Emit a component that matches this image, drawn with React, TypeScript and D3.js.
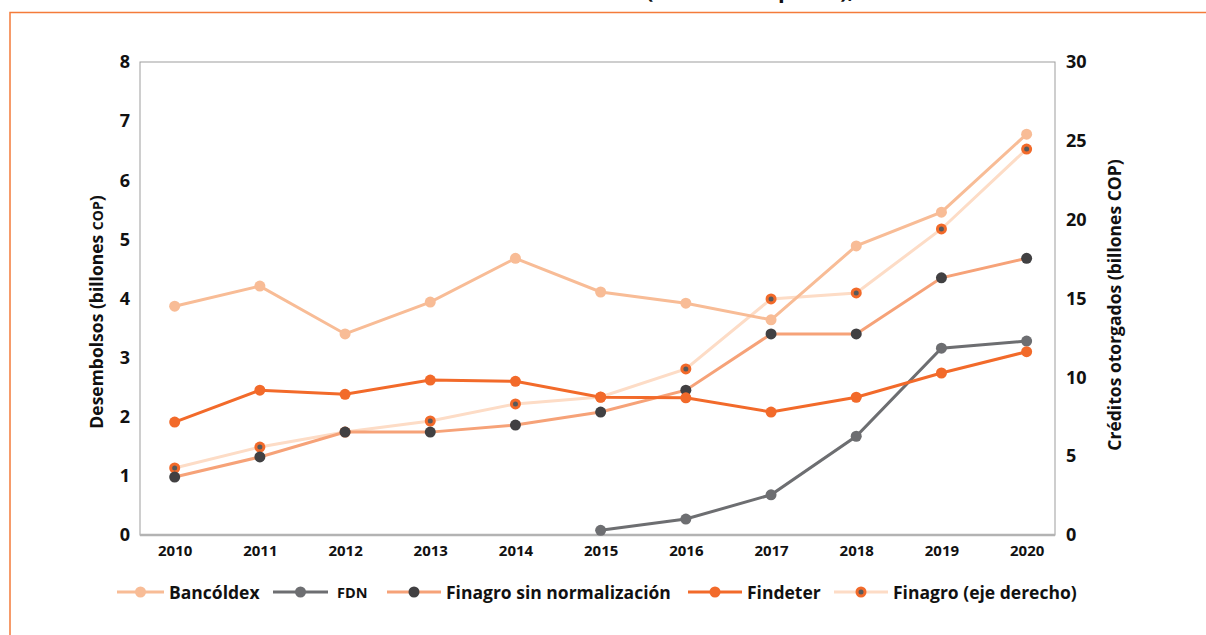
import React, { useEffect, useRef } from "react";
import * as d3 from "d3";

const years = ["2010", "2011", "2012", "2013", "2014", "2015", "2016", "2017", "2018", "2019", "2020"];
const bancoldex = [3.87, 4.21, 3.4, 3.94, 4.68, 4.11, 3.92, 3.64, 4.89, 5.46, 6.78];
const fdn = [null, null, null, null, null, 0.08, 0.27, 0.68, 1.67, 3.16, 3.28];
const finagroSinNorm = [0.98, 1.32, 1.74, 1.74, 1.86, 2.08, 2.45, 3.4, 3.4, 4.35, 4.68];
const findeter = [1.91, 2.45, 2.38, 2.62, 2.6, 2.33, 2.32, 2.08, 2.33, 2.74, 3.1];
const finagroDerecho = [4.25, 5.58, 6.53, 7.23, 8.31, 8.75, 10.53, 14.97, 15.35, 19.41, 24.48];
const leftTicks = [0, 1, 2, 3, 4, 5, 6, 7, 8];
const rightTicks = [0, 5, 10, 15, 20, 25, 30];

const W = 1206;
const H = 635;

export default function App() {
  const ref = useRef<SVGSVGElement>(null);

  useEffect(() => {
    const svg = d3.select(ref.current);
    svg.selectAll("*").remove();
    const font = "'Open Sans', 'Noto Sans', sans-serif";
    const m = { left: 140, right: 1055, top: 62, bottom: 535 };

    const x = d3.scalePoint<string>().domain(years).range([m.left, m.right]).padding(0.37).align(0.55);
    const yL = d3.scaleLinear().domain([0, 8]).range([m.bottom, m.top]);
    const yR = d3.scaleLinear().domain([0, 30]).range([m.bottom, m.top]);

    // frame
    svg.append("path").attr("d", `M10,${H} L10,12.5 L${W},12.5`).attr("fill", "none").attr("stroke", "#f47b3a").attr("stroke-width", 1.5);

    // title, cut off by the top of the picture
    svg.append("text").attr("x", 646).attr("y", -2).attr("font-family", font).attr("font-weight", 700)
      .attr("font-size", 22).attr("fill", "#111").text("(billones de pesos),");

    // plot box
    svg.append("rect").attr("x", m.left).attr("y", m.top).attr("width", m.right - m.left).attr("height", m.bottom - m.top)
      .attr("fill", "none").attr("stroke", "#9d9d9d").attr("stroke-width", 1);
    svg.append("line").attr("x1", m.left).attr("x2", m.right).attr("y1", m.bottom).attr("y2", m.bottom)
      .attr("stroke", "#b3b3b3").attr("stroke-width", 2.5);

    const tickStyle = (g: any) => {
      g.select(".domain").remove();
      g.selectAll(".tick line").remove();
      g.selectAll("text").attr("font-family", font).attr("font-weight", 700).attr("fill", "#111");
    };

    svg.append("g").attr("transform", `translate(${m.left},0)`)
      .call(d3.axisLeft(yL).tickValues(leftTicks).tickSize(0).tickPadding(10))
      .call(tickStyle).selectAll("text").attr("font-size", 18);
    svg.append("g").attr("transform", `translate(${m.right},0)`)
      .call(d3.axisRight(yR).tickValues(rightTicks).tickSize(0).tickPadding(11))
      .call(tickStyle).selectAll("text").attr("font-size", 18);
    svg.append("g").attr("transform", `translate(0,${m.bottom})`)
      .call(d3.axisBottom(x).tickSize(0).tickPadding(10))
      .call(tickStyle).selectAll("text").attr("font-size", 15);

    // axis titles
    const lt = svg.append("text").attr("transform", `translate(103,312) rotate(-90)`)
      .attr("text-anchor", "middle").attr("font-family", font).attr("font-weight", 700).attr("font-size", 17.5).attr("fill", "#111");
    lt.append("tspan").text("Desembolsos (billones ");
    lt.append("tspan").attr("font-size", 14).text("COP");
    lt.append("tspan").text(")");
    svg.append("text").attr("transform", `translate(1121,305) rotate(-90)`)
      .attr("text-anchor", "middle").attr("font-family", font).attr("font-weight", 700).attr("font-size", 17.5).attr("fill", "#111")
      .text("Créditos otorgados (billones COP)");

    type S = { name: string; data: (number | null)[]; y: any; line: string; fill: string; center?: string; small?: boolean };
    const series: S[] = [
      { name: "Bancóldex", data: bancoldex, y: yL, line: "#f8bc96", fill: "#f8bc96" },
      { name: "FDN", data: fdn, y: yL, line: "#6d6e71", fill: "#6d6e71", small: true },
      { name: "Finagro sin normalización", data: finagroSinNorm, y: yL, line: "#f6a278", fill: "#414042" },
      { name: "Findeter", data: findeter, y: yL, line: "#f26a2a", fill: "#f26a2a" },
      { name: "Finagro (eje derecho)", data: finagroDerecho, y: yR, line: "#fddcc6", fill: "#f26a2a", center: "#58595b" },
    ];

    const pointsOf = (s: S) =>
      s.data.map((v, j) => ({ v, yr: years[j] })).filter((d) => d.v != null) as { v: number; yr: string }[];

    const drawOrder = [4, 0, 1, 2, 3];
    drawOrder.forEach((i) => {
      const s = series[i];
      const line = d3.line<{ v: number; yr: string }>().x((d) => x(d.yr)!).y((d) => s.y(d.v));
      svg.append("path").attr("d", line(pointsOf(s))).attr("fill", "none").attr("stroke", s.line).attr("stroke-width", 3);
    });
    drawOrder.forEach((i) => {
      const s = series[i];
      const pts = pointsOf(s);
      const g = svg.append("g");
      g.selectAll("circle.m").data(pts).join("circle").attr("class", "m")
        .attr("cx", (d) => x(d.yr)!).attr("cy", (d) => s.y(d.v)).attr("r", 5.5).attr("fill", s.fill);
      if (s.center) {
        g.selectAll("circle.c").data(pts).join("circle").attr("class", "c")
          .attr("cx", (d) => x(d.yr)!).attr("cy", (d) => s.y(d.v)).attr("r", 2.5).attr("fill", s.center);
      }
    });

    // legend
    const legendX = [117, 273, 387, 688, 834];
    const legendLen = [47, 55, 54, 54, 54];
    const ly = 592;
    series.forEach((s, i) => {
      const len = legendLen[i];
      const g = svg.append("g").attr("transform", `translate(${legendX[i]},${ly})`);
      g.append("line").attr("x1", 0).attr("x2", len).attr("y1", 0).attr("y2", 0).attr("stroke", s.line).attr("stroke-width", 3);
      g.append("circle").attr("cx", len / 2).attr("cy", 0).attr("r", 5.5).attr("fill", s.fill);
      if (s.center) g.append("circle").attr("cx", len / 2).attr("cy", 0).attr("r", 2.5).attr("fill", s.center);
      g.append("text").attr("x", len + (s.small ? 9 : 5)).attr("y", s.small ? 6 : 6.5).attr("font-family", font).attr("font-weight", 700)
        .attr("font-size", s.small ? 14.5 : 17.5).attr("fill", "#111").text(s.name);
    });
  }, []);

  return (
    <div style={{ position: "absolute", top: 0, left: 0 }}>
      <svg ref={ref} width={W} height={H} style={{ display: "block", background: "#fff" }} />
    </div>
  );
}
